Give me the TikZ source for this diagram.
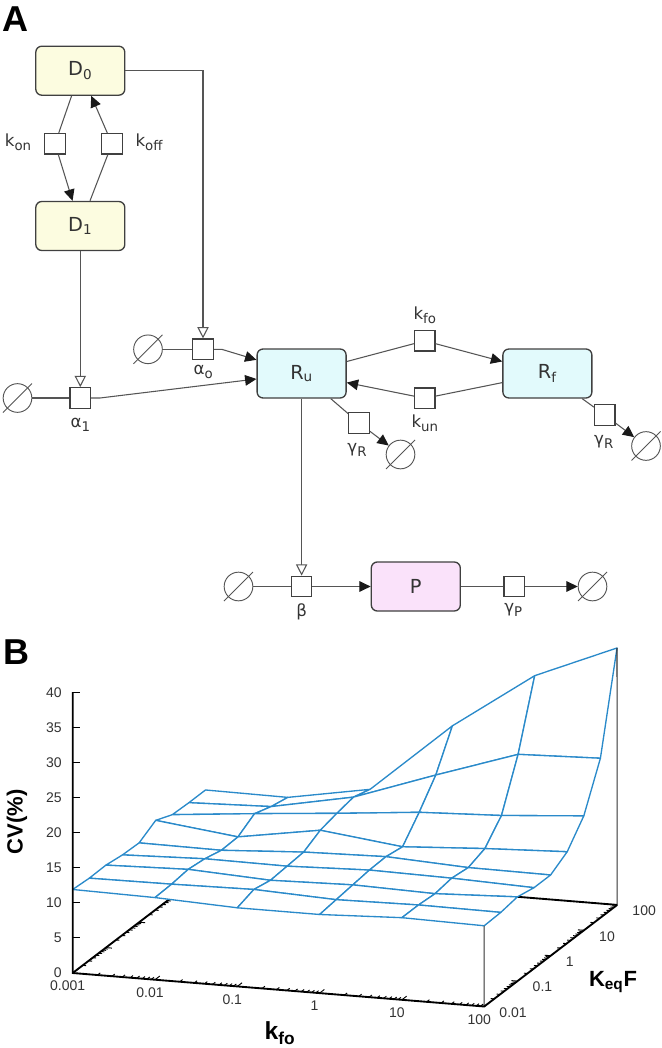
\documentclass[tikz,border=0pt]{standalone}
\usepackage{fontspec}
\setmainfont{Liberation Sans}
\newfontfamily\netfont{DejaVu Sans}
\usetikzlibrary{arrows.meta,calc}

\definecolor{boxline}{RGB}{64,64,64}
\definecolor{linkgray}{RGB}{85,85,85}
\definecolor{dnafill}{RGB}{252,252,224}
\definecolor{rnafill}{RGB}{226,250,252}
\definecolor{protfill}{RGB}{250,226,250}
\definecolor{meshblue}{RGB}{42,138,202}

\newcommand{\rsub}[1]{\raisebox{-0.45ex}{\fontsize{10}{11}\selectfont #1}}
\newcommand{\slashsink}[1]{\draw[sinkline] ($(#1)+(-14.5,14.5)$) -- ($(#1)+(14.5,-14.5)$);}

\tikzset{
  species/.style={draw=boxline,line width=1pt,rounded corners=4.5pt,
    minimum width=66.75pt,minimum height=36.75pt,inner sep=0pt,
    font=\netfont\fontsize{14.5}{16}\selectfont,text=black!80},
  process/.style={draw=boxline,fill=white,line width=0.9pt,minimum size=15.4pt,inner sep=0pt},
  sink/.style={circle,draw=linkgray,line width=0.7pt,minimum size=21.5pt,inner sep=0pt},
  sinkline/.style={draw=linkgray,line width=0.7pt},
  rate/.style={font=\netfont\fontsize{12.5}{14}\selectfont,text=black!80,inner sep=0pt},
  conn/.style={draw=linkgray,line width=0.8pt},
  react/.style={conn,-{Triangle[length=8.5pt,width=8pt,color=black!90]}},
  stim/.style={conn,-{Triangle[open,length=8.5pt,width=8.5pt,fill=white]}},
  panel/.style={font=\bfseries\fontsize{27}{30}\selectfont},
  axis/.style={draw=black,line width=1.4pt},
  tick/.style={draw=black,line width=0.7pt},
  boxedge/.style={draw=black!80,line width=0.8pt},
  ticklab/.style={font=\fontsize{10.5}{12}\selectfont,text=black!80,inner sep=0pt},
  axtitle/.style={font=\bfseries\fontsize{16.5}{18}\selectfont,inner sep=0pt},
  meshface/.style={fill=white,draw=meshblue,line width=1pt,line join=round}
}

\begin{document}
\begin{tikzpicture}[x=0.75pt,y=-0.75pt]
  \useasboundingbox (0,0) rectangle (661,1048);

  % Panel A: reaction network
  \node[panel] (labA) at (15,19) {A};

  % Gene states
  \node[species,fill=dnafill] (D0) at (80.3,70.7) {D\textsubscript{0}};
  \node[species,fill=dnafill] (D1) at (80.3,226) {D\textsubscript{1}};
  \node[process] (kon) at (55,143.8) {};
  \node[process] (koff) at (112,143.8) {};
  \node[rate] (konlab) at (18,142) {k\rsub{on}};
  \node[rate] (kofflab) at (149,142) {k\rsub{off}};
  \draw[conn] (D0) -- (kon);
  \draw[react] (kon) -- (D1);
  \draw[conn] (D1) -- (koff);
  \draw[react] (koff) -- (D0);

  % Transcription
  \node[species,fill=rnafill] (Ru) at (301.6,373.5) {R\textsubscript{u}};
  \node[species,fill=rnafill] (Rf) at (547.4,373.5) {R\textsubscript{f}};
  \node[process] (a0) at (203,349.3) {};
  \node[process] (a1) at (80.3,398) {};
  \node[sink] (src0) at (148,349.3) {};
  \node[sink] (src1) at (17.5,398) {};
  \slashsink{src0}
  \slashsink{src1}
  \node[rate] (a0lab) at (203.3,371.7) {α\rsub{o}};
  \node[rate] (a1lab) at (80.3,425) {α\rsub{1}};
  \coordinate (a0out) at (221.7,349.3);
  \coordinate (a1out) at (100,398);
  \draw[stim] (D0) -| (a0);
  \draw[stim] (D1) -- (a1);
  \draw[conn] (src0) -- (a0);
  \draw[conn] (src1) -- (a1);
  \draw[react] (a0) -- (a0out) -- (Ru);
  \draw[react] (a1) -- (a1out) -- (Ru);

  % Folding and unfolding
  \node[process] (kfo) at (424.7,340.8) {};
  \node[process] (kun) at (424.7,398.3) {};
  \node[rate] (kfolabA) at (424.8,315) {k\rsub{fo}};
  \node[rate] (kunlab) at (424.8,423.3) {k\rsub{un}};
  \draw[conn] (Ru) -- (kfo);
  \draw[react] (kfo) -- (Rf);
  \draw[conn] (Rf) -- (kun);
  \draw[react] (kun) -- (Ru);

  % RNA decay
  \node[process] (gRu) at (359,423) {};
  \node[sink] (snkRu) at (400.5,454.5) {};
  \slashsink{snkRu}
  \node[rate] (gRulab) at (357,450) {γ\rsub{R}};
  \draw[conn] (Ru) -- (gRu);
  \draw[react] (gRu) -- (snkRu);
  \node[process] (gRf) at (604.8,415) {};
  \node[sink] (snkRf) at (646,446) {};
  \slashsink{snkRf}
  \node[rate] (gRflab) at (603.8,441.7) {γ\rsub{R}};
  \draw[conn] (Rf) -- (gRf);
  \draw[react] (gRf) -- (snkRf);

  % Translation and protein decay
  \node[process] (beta) at (301.6,586.5) {};
  \node[sink] (src2) at (238.5,586.5) {};
  \slashsink{src2}
  \node[species,fill=protfill] (P) at (415.8,586.5) {P};
  \node[process] (gP) at (514.2,586.5) {};
  \node[sink] (snkP) at (592.5,586.5) {};
  \slashsink{snkP}
  \node[rate] (betalab) at (301.6,611.7) {β};
  \node[rate] (gPlab) at (513.3,610) {γ\rsub{P}};
  \draw[stim] (Ru) -- (beta);
  \draw[conn] (src2) -- (beta);
  \draw[react] (beta) -- (P);
  \draw[conn] (P) -- (gP);
  \draw[react] (gP) -- (snkP);

  % Panel B: CV surface
  \node[panel] (labB) at (16,652) {B};
  \coordinate (o) at (72.7,973);
  \coordinate (kx) at (484.2,1006.5);
  \coordinate (ky) at (205.7,871.4);
  \coordinate (kxy) at (617.2,904.9);
  \coordinate (ztop) at (72.7,692.2);

  % hidden base edges first
  \draw[axis] (ky) -- (kxy);
  \draw[axis] (o) -- (ky);
  \foreach \d in {0,...,3}{
    \foreach \m in {1,...,9}{
      \pgfmathsetmacro\t{\d+log10(\m)}
      \pgfmathsetmacro\len{\m==1 ? 6 : 3.5}
      \draw[tick] ({72.7+33.25*\t},{973-25.4*\t}) -- ++({0.997*\len},{0.081*\len});
    }
  }

  % surface points, one row per kfo decade
  \foreach \i/\row in {0/{11.9,11.7,11.75,11.4,11.3,12.7,11.7,11.6,11.6},
                       1/{11.7,11.8,12.1,11.8,11.2,11.3,12.8,12.0,11.5},
                       2/{11.2,12.0,11.5,11.7,11.9,13.2,13.8,14.3,13.6},
                       3/{11.2,11.5,11.8,12.1,12.2,11.8,14.9,18.4,23.6},
                       4/{11.7,11.7,11.5,11.9,11.6,12.5,15.4,22.3,31.7},
                       5/{11.5,11.6,12.0,11.5,11.5,13.0,16.3,22.7,36.6}}{
    \foreach \zz [count=\j from 0] in \row
      \coordinate (s\i-\j) at ({72.7+82.3*\i+16.6*\j},{973+6.7*\i-12.7*\j-7.02*\zz});
  }
  % faces, back to front
  \foreach \j in {7,6,...,0}{
    \foreach \i in {0,...,4}{
      \pgfmathtruncatemacro\ii{\i+1}
      \pgfmathtruncatemacro\jj{\j+1}
      \filldraw[meshface] (s\i-\j) -- (s\ii-\j) -- (s\ii-\jj) -- (s\i-\jj) -- cycle;
    }
  }

  % front axes
  \draw[boxedge] (kx) -- (s5-0);
  \draw[boxedge] (kxy) -- (s5-8);
  \draw[axis] (ztop) -- (o) -- (kx) -- (kxy);
  \foreach \v in {0,5,...,40}{
    \draw[tick] (72.7,{973-7.02*\v}) -- ++(7,0);
    \node[ticklab,anchor=east] (zlab\v) at (62,{973-7.02*\v}) {\v};
  }
  \foreach \d in {0,...,4}{
    \foreach \m in {1,...,9}{
      \pgfmathsetmacro\t{\d+log10(\m)}
      \pgfmathsetmacro\len{\m==1 ? 6 : 3.5}
      \draw[tick] ({72.7+82.3*\t},{973+6.7*\t}) -- ++({0.794*\len},{-0.607*\len});
    }
  }
  \draw[tick] (kx) -- ++({0.794*6},{-0.607*6});
  \foreach \d in {0,...,3}{
    \foreach \m in {1,...,9}{
      \pgfmathsetmacro\t{\d+log10(\m)}
      \pgfmathsetmacro\len{\m==1 ? 6 : 3.5}
      \draw[tick] ({484.2+33.25*\t},{1006.5-25.4*\t}) -- ++({-0.997*\len},{-0.081*\len});
    }
  }
  \draw[tick] (kxy) -- ++(-6,-0.5);
  \foreach \lab [count=\k from 0] in {0.001,0.01,0.1,1,10,100}
    \node[ticklab] (xlab\k) at ({72.7+82.3*\k-5},{973+6.7*\k+13}) {\lab};
  \foreach \lab [count=\k from 0] in {0.01,0.1,1,10,100}
    \node[ticklab,anchor=west] (ylab\k) at ({484.2+33.25*\k+15},{1006.5-25.4*\k+6}) {\lab};

  % axis titles
  \node[axtitle,rotate=90] (cvlab) at (17,822) {CV(\%)};
  \node[axtitle,font=\bfseries\fontsize{18.5}{20}\selectfont] (kfolab) at (280,1033) {k\textsubscript{fo}};
  \node[axtitle] (keqlab) at (613,982) {K\textsubscript{eq}F};
\end{tikzpicture}
\end{document}
